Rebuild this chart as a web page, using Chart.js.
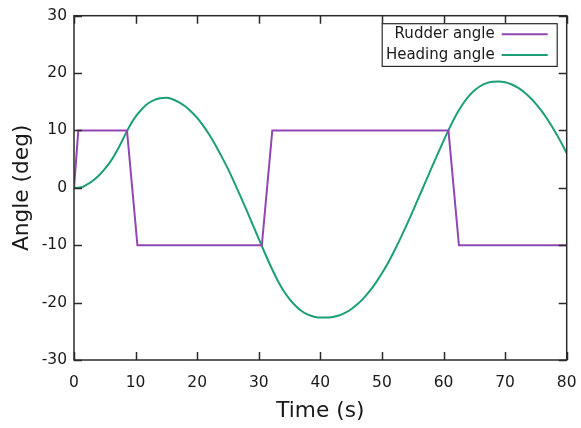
<!DOCTYPE html>
<html>
<head>
<meta charset="utf-8">
<script src="https://cdn.jsdelivr.net/npm/chart.js@4.4.1/dist/chart.umd.min.js"></script>
<style>
  html, body { margin: 0; padding: 0; background: #ffffff; }
  #wrap { width: 581px; height: 428px; }
</style>
</head>
<body>
<div id="wrap"><canvas id="chart" width="581" height="428"></canvas></div>
<script>
// Zig-zag manoeuvre: rudder command and resulting heading (degrees vs seconds)
const timeTicks = [0, 10, 20, 30, 40, 50, 60, 70, 80];
const angleTicks = [-30, -20, -10, 0, 10, 20, 30];

const rudderTime  = [0, 0.7, 8.6, 10.3, 30.5, 32.2, 60.8, 62.5, 80];
const rudderAngle = [0, 10, 10, -10, -10, 10, 10, -10, -10];

const headingTime = [
  0, 1, 2, 3, 4, 5, 6, 7, 8, 9, 10, 11, 12, 13, 14, 15, 16, 17, 18, 19, 20,
  21, 22, 23, 24, 25, 26, 27, 28, 29, 30, 31, 32, 33, 34, 35, 36, 37, 38, 39, 40,
  41, 42, 43, 44, 45, 46, 47, 48, 49, 50, 51, 52, 53, 54, 55, 56, 57, 58, 59, 60,
  61, 62, 63, 64, 65, 66, 67, 68, 69, 70, 71, 72, 73, 74, 75, 76, 77, 78, 79, 80
];
const headingAngle = [
  0, 0.05, 0.5, 1.2, 2.1, 3.3, 4.7, 6.5, 8.6, 10.7, 12.4, 13.7, 14.7, 15.3, 15.6, 15.7, 15.45, 14.95, 14.25, 13.3, 12.2,
  10.8, 9.2, 7.4, 5.4, 3.3, 1.0, -1.4, -3.85, -6.35, -8.9, -11.4, -13.8, -16.0, -17.9, -19.4, -20.6, -21.5, -22.1, -22.45, -22.6,
  -22.6, -22.5, -22.25, -21.8, -21.15, -20.3, -19.25, -18.0, -16.55, -14.9, -13.05, -11.0, -8.8, -6.5, -4.1, -1.6, 0.85, 3.35, 5.8, 8.2,
  10.5, 12.6, 14.4, 15.85, 16.95, 17.75, 18.25, 18.5, 18.55, 18.4, 18.05, 17.5, 16.75, 15.8, 14.65, 13.3, 11.75, 10.0, 8.1, 6.05
];

const seriesNames = ['Rudder angle', 'Heading angle'];
const seriesColors = ['#9146b4', '#1c9e76'];

const FONT = '"DejaVu Sans", Verdana, sans-serif';
const TEXT = '#1a1a1a';
const FRAME = '#2b2b2b';

const toPoints = (xs, ys) => xs.map((x, i) => ({ x: x, y: ys[i] }));

// Box around the plot with inward ticks on all four sides
const framePlugin = {
  id: 'frameTicks',
  afterDatasetsDraw(chart) {
    const { ctx, chartArea: a, scales: { x, y } } = chart;
    const len = 8;
    ctx.save();
    ctx.strokeStyle = FRAME;
    ctx.lineWidth = 1.5;
    ctx.beginPath();
    timeTicks.forEach(v => {
      const px = Math.round(x.getPixelForValue(v)) + 0.5;
      ctx.moveTo(px, a.bottom); ctx.lineTo(px, a.bottom - len);
      ctx.moveTo(px, a.top); ctx.lineTo(px, a.top + len);
    });
    angleTicks.forEach(v => {
      const py = Math.round(y.getPixelForValue(v)) + 0.5;
      ctx.moveTo(a.left, py); ctx.lineTo(a.left + len, py);
      ctx.moveTo(a.right, py); ctx.lineTo(a.right - len, py);
    });
    ctx.stroke();
    ctx.strokeRect(a.left, a.top, a.right - a.left, a.bottom - a.top);
    ctx.restore();
  }
};

// Legend in the top-right corner: label text followed by a line sample
const legendPlugin = {
  id: 'cornerLegend',
  afterDraw(chart) {
    const { ctx, chartArea: a } = chart;
    const boxRight = a.right - 10;
    const boxLeft = boxRight - 175;
    const boxTop = a.top + 7.5;
    const rowH = 20.7;
    const boxH = 42.7;
    ctx.save();
    ctx.fillStyle = '#ffffff';
    ctx.fillRect(boxLeft, boxTop, boxRight - boxLeft, boxH);
    ctx.strokeStyle = FRAME;
    ctx.lineWidth = 1.2;
    ctx.strokeRect(boxLeft + 0.5, boxTop + 0.5, boxRight - boxLeft, boxH);
    ctx.font = '15px ' + FONT;
    ctx.textAlign = 'right';
    ctx.textBaseline = 'middle';
    chart.data.datasets.forEach((ds, i) => {
      const cy = boxTop + 11 + i * rowH;
      ctx.fillStyle = TEXT;
      ctx.fillText(ds.label, boxRight - 62, cy);
      ctx.strokeStyle = ds.borderColor;
      ctx.lineWidth = 2;
      ctx.beginPath();
      ctx.moveTo(boxRight - 55, cy);
      ctx.lineTo(boxRight - 9, cy);
      ctx.stroke();
    });
    ctx.restore();
  }
};

const noScalePadding = s => {
  s.paddingLeft = 0; s.paddingRight = 0; s.paddingTop = 0; s.paddingBottom = 0;
};

new Chart(document.getElementById('chart'), {
  type: 'line',
  data: {
    datasets: [
      {
        label: seriesNames[0],
        data: toPoints(rudderTime, rudderAngle),
        borderColor: seriesColors[0],
        borderWidth: 2,
        pointRadius: 0,
        tension: 0,
        fill: false
      },
      {
        label: seriesNames[1],
        data: toPoints(headingTime, headingAngle),
        borderColor: seriesColors[1],
        borderWidth: 2,
        pointRadius: 0,
        cubicInterpolationMode: 'monotone',
        fill: false
      }
    ]
  },
  options: {
    responsive: false,
    animation: false,
    devicePixelRatio: 1,
    layout: { padding: { left: 0, right: 14.3, top: 15.7, bottom: 4 } },
    plugins: {
      legend: { display: false },
      tooltip: { enabled: false }
    },
    scales: {
      x: {
        type: 'linear',
        min: 0,
        max: 80,
        afterBuildTicks: s => { s.ticks = timeTicks.map(v => ({ value: v })); },
        afterFit: s => { s.height = 64; noScalePadding(s); },
        grid: { display: false, drawTicks: false },
        border: { display: false },
        ticks: { color: TEXT, font: { family: FONT, size: 15.5 }, padding: 13.5, maxRotation: 0 },
        title: { display: true, text: 'Time (s)', color: TEXT, font: { family: FONT, size: 21.7 }, padding: { top: 0, bottom: 0 } }
      },
      y: {
        type: 'linear',
        min: -30,
        max: 30,
        afterBuildTicks: s => { s.ticks = angleTicks.map(v => ({ value: v })); },
        afterFit: s => { s.width = 74; noScalePadding(s); },
        grid: { display: false, drawTicks: false },
        border: { display: false },
        ticks: { color: TEXT, font: { family: FONT, size: 15.5 }, padding: 7 },
        title: { display: true, text: 'Angle (deg)', color: TEXT, font: { family: FONT, size: 21.7 }, padding: { top: 9, bottom: 0 } }
      }
    }
  },
  plugins: [framePlugin, legendPlugin]
});
</script>
</body>
</html>
